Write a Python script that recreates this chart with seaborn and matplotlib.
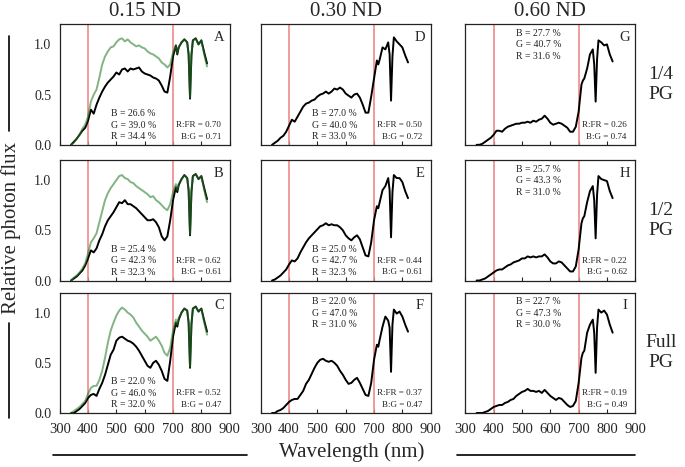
import numpy as np
import matplotlib
matplotlib.use("Agg")
import matplotlib.pyplot as plt
from matplotlib.lines import Line2D
import seaborn as sns

# wavelength grid (nm)
wl = [340, 350, 360, 370, 380, 390,
      400, 410, 420, 430, 440, 450, 460, 470, 480, 490,
      500, 510, 520, 530, 540, 550, 560, 570, 580, 590,
      600, 610, 620, 630, 640, 650, 660, 670, 680, 690,
      700, 710, 715, 720, 730, 740, 750, 755, 760, 765, 770, 780, 790, 800, 810, 820]

# ---- 0.15 ND column (black = filtered, green = unfiltered reference)
a_black = [0.00, 0.03, 0.06, 0.10, 0.14, 0.17,
           0.24, 0.35, 0.31, 0.40, 0.47, 0.53, 0.58, 0.62, 0.65, 0.68,
           0.72, 0.70, 0.75, 0.76, 0.73, 0.76, 0.75, 0.76, 0.77, 0.73,
           0.71, 0.70, 0.69, 0.67, 0.66, 0.64, 0.59, 0.53, 0.52, 0.68,
           0.88, 0.99, 0.90, 0.97, 1.02, 1.05, 1.02, 0.90, 0.46, 0.89, 1.04, 1.06, 1.00, 1.04, 0.92, 0.81]
a_green = [0.00, 0.02, 0.06, 0.10, 0.16, 0.20,
           0.28, 0.43, 0.50, 0.55, 0.67, 0.80, 0.88, 0.93, 0.97, 0.98,
           1.02, 1.05, 1.06, 1.03, 1.05, 1.02, 1.00, 0.98, 0.99, 0.97,
           0.96, 0.93, 0.91, 0.90, 0.88, 0.86, 0.82, 0.80, 0.77, 0.80,
           0.92, 0.99, 0.91, 0.97, 1.02, 1.05, 1.02, 0.90, 0.47, 0.90, 1.04, 1.06, 1.00, 1.04, 0.90, 0.78]
b_black = [0.00, 0.02, 0.04, 0.07, 0.10, 0.15,
           0.22, 0.30, 0.28, 0.32, 0.40, 0.46, 0.54, 0.60, 0.64, 0.68,
           0.73, 0.78, 0.77, 0.80, 0.76, 0.76, 0.74, 0.72, 0.69, 0.66,
           0.63, 0.60, 0.60, 0.61, 0.58, 0.53, 0.44, 0.40, 0.44, 0.60,
           0.80, 0.93, 0.88, 0.95, 1.01, 1.05, 1.02, 0.90, 0.45, 0.88, 1.04, 1.06, 1.01, 1.04, 0.92, 0.81]
b_green = [0.00, 0.03, 0.05, 0.08, 0.12, 0.17,
           0.27, 0.38, 0.42, 0.47, 0.58, 0.69, 0.80, 0.87, 0.92, 0.96,
           1.00, 1.04, 1.05, 1.02, 1.01, 0.98, 0.97, 0.94, 0.92, 0.90,
           0.88, 0.86, 0.83, 0.84, 0.80, 0.78, 0.75, 0.72, 0.70, 0.76,
           0.88, 0.96, 0.90, 0.96, 1.01, 1.05, 1.02, 0.90, 0.46, 0.89, 1.04, 1.06, 1.01, 1.04, 0.90, 0.78]
c_black = [0.00, 0.00, 0.02, 0.04, 0.07, 0.10,
           0.15, 0.18, 0.19, 0.17, 0.24, 0.30, 0.38, 0.48, 0.58, 0.63,
           0.72, 0.75, 0.76, 0.74, 0.72, 0.71, 0.69, 0.66, 0.62, 0.57,
           0.52, 0.47, 0.45, 0.50, 0.52, 0.48, 0.42, 0.34, 0.32, 0.52,
           0.76, 0.90, 0.86, 0.93, 1.00, 1.04, 1.02, 0.90, 0.45, 0.88, 1.04, 1.06, 1.01, 1.04, 0.92, 0.81]
c_green = [0.00, 0.02, 0.04, 0.06, 0.09, 0.12,
           0.19, 0.25, 0.27, 0.27, 0.33, 0.42, 0.55, 0.70, 0.82, 0.90,
           0.97, 1.02, 1.05, 1.03, 1.00, 0.98, 0.95, 0.90, 0.86, 0.82,
           0.79, 0.76, 0.72, 0.74, 0.76, 0.72, 0.67, 0.60, 0.57, 0.65,
           0.82, 0.93, 0.88, 0.95, 1.00, 1.04, 1.02, 0.90, 0.46, 0.89, 1.04, 1.06, 1.01, 1.04, 0.90, 0.78]

# ---- 0.30 ND column
d_black = [0.00, 0.02, 0.04, 0.07, 0.09, 0.13,
           0.19, 0.25, 0.23, 0.28, 0.33, 0.38, 0.41, 0.42, 0.44, 0.45,
           0.48, 0.50, 0.51, 0.53, 0.51, 0.53, 0.56, 0.55, 0.57, 0.55,
           0.51, 0.49, 0.47, 0.50, 0.51, 0.47, 0.40, 0.32, 0.32, 0.48,
           0.66, 0.84, 0.80, 0.85, 0.97, 0.95, 1.02, 0.90, 0.44, 0.88, 1.07, 1.03, 1.00, 0.97, 0.89, 0.82]
e_black = [0.00, 0.01, 0.03, 0.05, 0.08, 0.11,
           0.16, 0.20, 0.19, 0.22, 0.28, 0.33, 0.38, 0.42, 0.45, 0.48,
           0.51, 0.54, 0.55, 0.57, 0.55, 0.56, 0.55, 0.55, 0.53, 0.50,
           0.45, 0.42, 0.40, 0.43, 0.45, 0.41, 0.33, 0.25, 0.24, 0.38,
           0.60, 0.74, 0.72, 0.78, 0.90, 0.94, 1.02, 0.90, 0.43, 0.88, 1.05, 1.02, 1.02, 0.98, 0.89, 0.82]
f_black = [0.00, 0.00, 0.02, 0.03, 0.05, 0.08,
           0.11, 0.13, 0.14, 0.14, 0.18, 0.22, 0.29, 0.33, 0.39, 0.45,
           0.50, 0.53, 0.54, 0.52, 0.51, 0.52, 0.50, 0.47, 0.42, 0.38,
           0.33, 0.29, 0.30, 0.33, 0.35, 0.30, 0.24, 0.18, 0.17, 0.30,
           0.53, 0.68, 0.66, 0.73, 0.86, 0.96, 0.92, 0.85, 0.41, 0.88, 1.03, 0.99, 1.01, 0.96, 0.88, 0.81]

# ---- 0.60 ND column
g_black = [0.00, 0.00, 0.01, 0.03, 0.05, 0.07,
           0.10, 0.14, 0.14, 0.13, 0.16, 0.18, 0.19, 0.20, 0.21, 0.21,
           0.22, 0.22, 0.23, 0.22, 0.24, 0.23, 0.25, 0.26, 0.29, 0.26,
           0.22, 0.20, 0.21, 0.22, 0.21, 0.19, 0.17, 0.13, 0.13, 0.18,
           0.33, 0.60, 0.64, 0.66, 0.76, 0.90, 0.95, 0.80, 0.43, 0.85, 1.04, 1.02, 0.99, 1.00, 0.90, 0.83]
h_black = [0.00, 0.00, 0.01, 0.02, 0.04, 0.06,
           0.08, 0.10, 0.11, 0.11, 0.13, 0.15, 0.16, 0.18, 0.19, 0.20,
           0.22, 0.22, 0.24, 0.23, 0.24, 0.23, 0.24, 0.24, 0.26, 0.23,
           0.19, 0.17, 0.17, 0.19, 0.18, 0.15, 0.12, 0.09, 0.09, 0.14,
           0.31, 0.57, 0.62, 0.64, 0.78, 0.89, 0.94, 0.80, 0.42, 0.85, 1.04, 1.01, 1.00, 0.99, 0.89, 0.82]
i_black = [0.00, 0.00, 0.00, 0.01, 0.02, 0.04,
           0.06, 0.07, 0.08, 0.08, 0.10, 0.11, 0.13, 0.14, 0.17, 0.19,
           0.21, 0.22, 0.24, 0.22, 0.22, 0.21, 0.22, 0.20, 0.23, 0.20,
           0.17, 0.15, 0.13, 0.15, 0.14, 0.11, 0.08, 0.06, 0.07, 0.12,
           0.30, 0.55, 0.60, 0.62, 0.80, 0.88, 0.93, 0.80, 0.40, 0.85, 1.03, 1.00, 1.02, 0.98, 0.88, 0.80]

panel_letters = ["A", "B", "C", "D", "E", "F", "G", "H", "I"]
blue_pct  = [26.6, 25.4, 22.0, 27.0, 25.0, 22.0, 27.7, 25.7, 22.7]
green_pct = [39.0, 42.3, 46.0, 40.0, 42.7, 47.0, 40.7, 43.3, 47.3]
red_pct   = [34.4, 32.3, 32.0, 33.0, 32.3, 31.0, 31.6, 31.0, 30.0]
r_fr      = [0.70, 0.62, 0.52, 0.50, 0.44, 0.37, 0.26, 0.22, 0.19]
b_g       = [0.71, 0.61, 0.47, 0.72, 0.61, 0.47, 0.74, 0.62, 0.49]
col_titles = ["0.15 ND", "0.30 ND", "0.60 ND"]
row_titles = ["1/4\nPG", "1/2\nPG", "Full\nPG"]

black_series = [a_black, b_black, c_black, d_black, e_black, f_black, g_black, h_black, i_black]
green_series = [a_green, b_green, c_green, None, None, None, None, None, None]

sns.set_style("ticks")
plt.rcParams["font.family"] = ["Liberation Serif", "DejaVu Serif"]

W, H = 685, 467
fig = plt.figure(figsize=(W / 100, H / 100), dpi=100)

col_left = [59.7, 260.7, 465.3]
row_top = [24.3, 160.0, 292.5]
ax_w, ax_h = 170.0, 120.5

red_c = "#ef8a8a"
green_c = "#287d28"

for col in range(3):
    for row in range(3):
        k = col * 3 + row
        ax = fig.add_axes([col_left[col] / W, 1 - (row_top[row] + ax_h) / H, ax_w / W, ax_h / H])
        ax.axvline(400, color=red_c, lw=1.2, zorder=1)
        ax.axvline(700, color=red_c, lw=1.2, zorder=1)
        sns.lineplot(x=wl, y=black_series[k], ax=ax, color="black", lw=1.4, zorder=3)
        if green_series[k] is not None:
            sns.lineplot(x=wl, y=green_series[k], ax=ax, color=green_c, lw=1.4, alpha=0.58, zorder=4)
        ax.set_xlim(300, 900)
        ax.set_ylim(0, 1.2)
        ax.set_xticks(range(300, 901, 100))
        ax.set_yticks([0.0, 0.5, 1.0])
        ax.tick_params(axis="x", direction="in", length=3, width=0.8, labelsize=10.5, pad=7)
        ax.tick_params(axis="y", direction="in", length=0, labelsize=10, pad=6)
        if row < 2:
            ax.set_xticklabels([])
        if col > 0:
            ax.set_yticklabels([])
        else:
            ax.set_yticklabels(["0.0", "0.5", "1.0"])
        for s in ax.spines.values():
            s.set_linewidth(0.9)
            s.set_color("#222222")

        # B/G/R shares: bottom for A-E, top for F-I
        ys = [0.31, 0.195, 0.08] if k < 5 else [1.11, 0.995, 0.88]
        lines = [f"B = {blue_pct[k]:.1f} %", f"G = {green_pct[k]:.1f} %", f"R = {red_pct[k]:.1f} %"]
        for yv, t in zip(ys, lines):
            ax.text(480, yv, t, fontsize=7, ha="left", va="center", color="#222222")
        ax.text(870, 0.195, f"R:FR = {r_fr[k]:.2f}", fontsize=6.5, ha="right", va="center", color="#222222")
        ax.text(870, 0.08, f"B:G = {b_g[k]:.2f}", fontsize=6.5, ha="right", va="center", color="#222222")
        ax.text(862, 1.07, panel_letters[k], fontsize=10.5, ha="center", va="center")

        if row == 0:
            fig.text((col_left[col] + ax_w / 2) / W, 1 - 12 / H, col_titles[col],
                     fontsize=15, ha="center", va="center")
        if col == 2:
            fig.text(661 / W, 1 - (row_top[row] + ax_h / 2) / H, row_titles[row],
                     fontsize=14, ha="center", va="center", linespacing=1.25)

# axis labels with rule lines
fig.text(11 / W, 1 - 228 / H, "Relative photon flux", rotation=90, fontsize=15,
         ha="center", va="center")
fig.add_artist(Line2D([9 / W, 9 / W], [1 - 36 / H, 1 - 131 / H], color="black", lw=1.2))
fig.add_artist(Line2D([9 / W, 9 / W], [1 - 323 / H, 1 - 418 / H], color="black", lw=1.2))

fig.text(352 / W, 1 - 452 / H, "Wavelength (nm)", fontsize=15, ha="center", va="center")
fig.add_artist(Line2D([53 / W, 247 / W], [1 - 455 / H, 1 - 455 / H], color="black", lw=1.2))
fig.add_artist(Line2D([457 / W, 635 / W], [1 - 455 / H, 1 - 455 / H], color="black", lw=1.2))

fig.savefig("out.png", dpi=100)
